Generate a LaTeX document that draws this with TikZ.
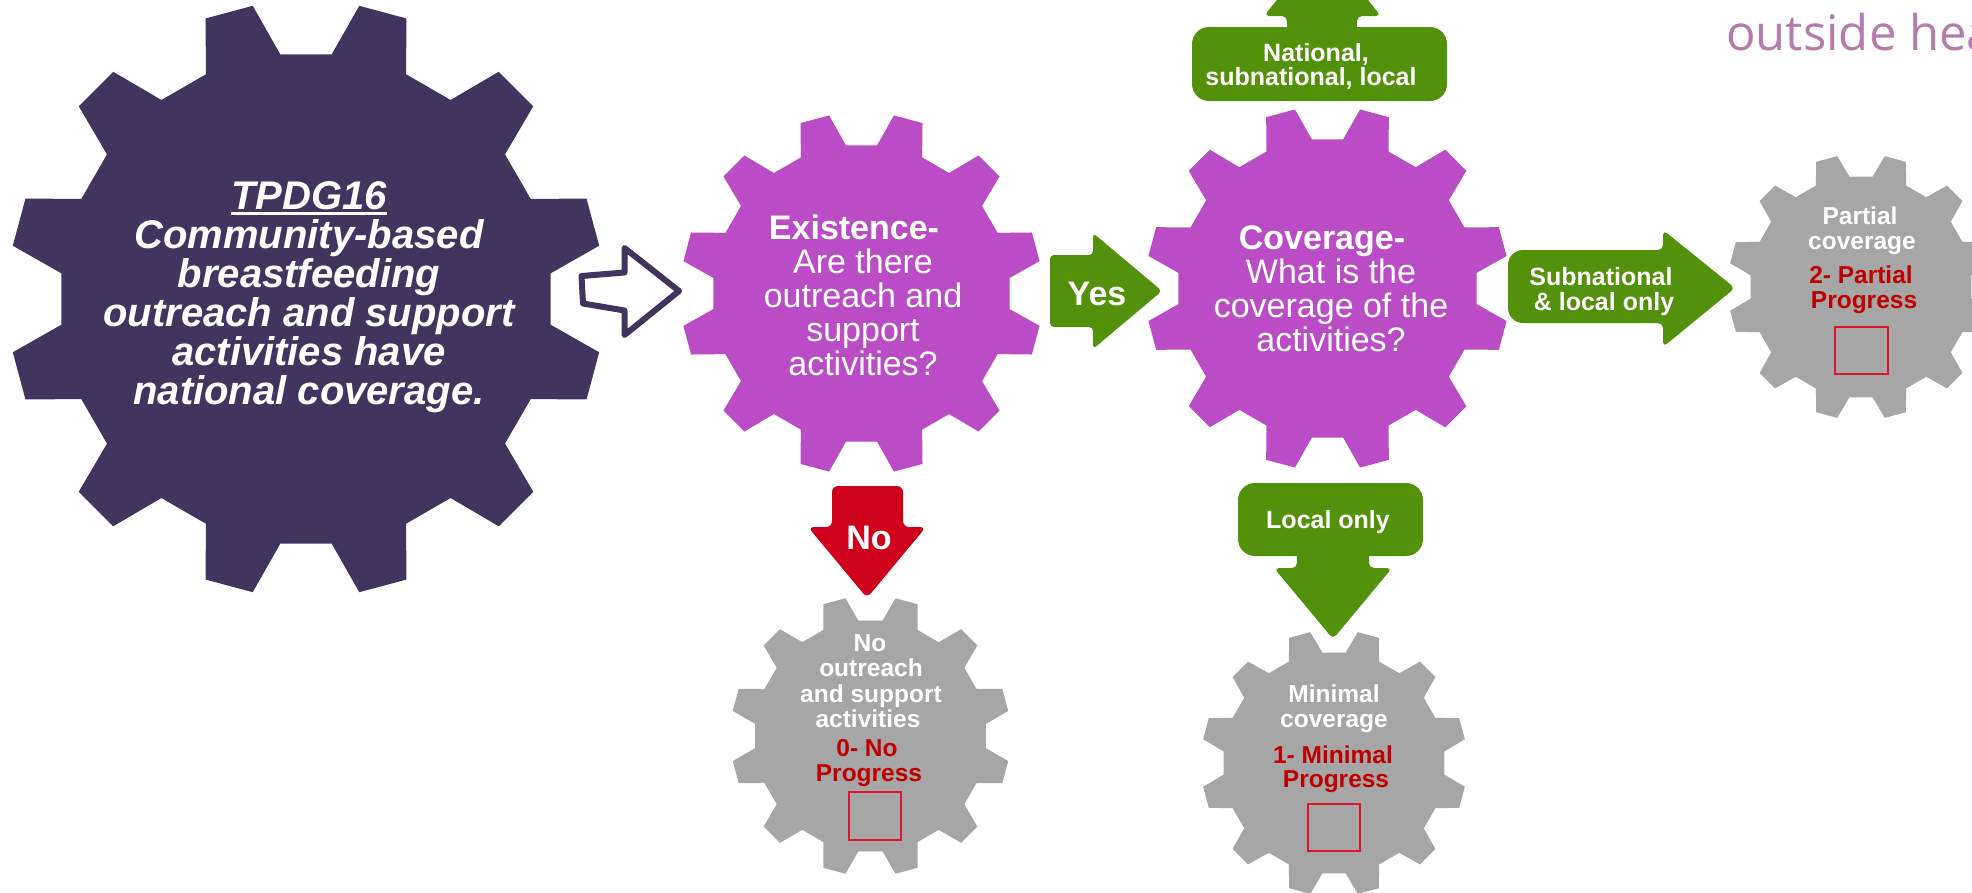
\documentclass[tikz,border=0pt]{standalone}
\usepackage{fontspec}
\setmainfont{Liberation Sans}
\newfontfamily\osans{Open Sans}
\definecolor{darkpurple}{RGB}{65,52,94}
\definecolor{gearpurple}{RGB}{186,77,198}
\definecolor{arrowgreen}{RGB}{82,145,10}
\definecolor{arrowred}{RGB}{208,2,27}
\definecolor{geargray}{RGB}{166,166,166}
\definecolor{darkred}{RGB}{192,0,0}
\definecolor{boxred}{RGB}{222,20,45}
\definecolor{titlepink}{RGB}{181,123,170}
\newcommand{\drawgear}[5]{%
  \fill[#5, shift={(#1,#2)}] (6:#4)
    \foreach \t in {15,45,...,345} { -- (\t-9:#4) -- (\t-4.7:#3) -- (\t+4.7:#3) -- (\t+9:#4) } -- cycle;}
\newcommand{\myul}[1]{\setbox0=\hbox{#1}\rlap{\rule[-5pt]{\wd0}{3pt}}\box0}
\begin{document}
\begin{tikzpicture}[x=1pt,y=-1pt,
  bigtxt/.style={text=white, font=\fontsize{40}{39}\selectfont\bfseries\itshape, inner sep=0pt, anchor=base},
  qtxt/.style={text=white, font=\fontsize{34}{34}\selectfont, inner sep=0pt, anchor=base},
  qbold/.style={text=white, font=\fontsize{34}{34}\selectfont\bfseries, inner sep=0pt, anchor=base},
  lbl/.style={text=white, font=\fontsize{25}{25}\selectfont\bfseries, inner sep=0pt, anchor=base},
  gtxt/.style={text=white, font=\fontsize{24.5}{25}\selectfont\bfseries, inner sep=0pt, anchor=base},
  prog/.style={text=darkred, font=\fontsize{24.5}{25}\selectfont\bfseries, inner sep=0pt, anchor=base},
  checkbox/.style={draw=boxred, line width=1.6pt},
  blockarrow/.style={rounded corners=5pt},
]
\useasboundingbox (0,0) rectangle (1972,892);
\fill[white] (0,0) rectangle (1972,892);
\begin{scope}
\clip (0,0) rectangle (1972,892);
% gears
\coordinate (gmain) at (306,299);
\drawgear{306}{299}{298}{246}{darkpurple}
\drawgear{861.5}{293.5}{181}{149}{gearpurple}
\drawgear{1327.5}{288.5}{182}{150}{gearpurple}
\drawgear{870.5}{736}{140}{116}{geargray}
\drawgear{1334}{763}{133}{111}{geargray}
\drawgear{1861}{287}{133}{111}{geargray}
% title fragment
\node[text=titlepink, font=\osans\fontsize{49}{49}\selectfont, inner sep=0pt, anchor=base west] (title) at (1726,50) {outside hea};
% national stub arrow (head leaves the picture)
\fill[arrowgreen, blockarrow] (1287,40) -- (1357,40) -- (1357,16) -- (1381,16) -- (1322,-56) -- (1264,16) -- (1287,16) -- cycle;
\end{scope}

% hollow arrow
\draw[darkpurple, line width=6pt, line join=round, fill=white]
  (581.5,276) -- (624.5,272.5) -- (624.5,248) -- (679,291) -- (624.5,335) -- (624.5,310.5) -- (583,303.5) -- cycle;

% Yes arrow
\fill[arrowgreen, rounded corners=4pt] (1050,255) -- (1093,255) -- (1093,233) -- (1162,291) -- (1093,349) -- (1093,327) -- (1050,327) -- cycle;
% No arrow
\fill[arrowred, rounded corners=6pt] (832,486) -- (903,486) -- (903,527) -- (926,527) -- (867,598) -- (808,527) -- (832,527) -- cycle;
% National box
\fill[arrowgreen, rounded corners=17pt] (1192,27) rectangle (1447,101);
% Subnational arrow
\fill[arrowgreen, rounded corners=15pt] (1508,250) rectangle (1685,323);
\fill[arrowgreen, blockarrow] (1650,250) -- (1663,250) -- (1663,230) -- (1735,288) -- (1663,347) -- (1663,323) -- (1650,323) -- cycle;
% Local only arrow
\fill[arrowgreen, rounded corners=17pt] (1238,483) rectangle (1423,556);
\fill[arrowgreen, blockarrow] (1297,545) -- (1369,545) -- (1369,568) -- (1392,568) -- (1333,639) -- (1274,568) -- (1297,568) -- cycle;

% big gear text
\node[bigtxt] (m1) at (309,209.5) {\myul{TPDG16}};
\node[bigtxt] (m2) at (309,248.5) {Community-based};
\node[bigtxt] (m3) at (309,287.5) {breastfeeding};
\node[bigtxt] (m4) at (309,326.5) {outreach and support};
\node[bigtxt] (m5) at (309,365.5) {activities have};
\node[bigtxt] (m6) at (309,404.5) {national coverage.};

% existence text
\node[qbold] (e1) at (854,239) {Existence-};
\node[qtxt] (e2) at (863,273) {Are there};
\node[qtxt] (e3) at (863,307) {outreach and};
\node[qtxt] (e4) at (863,341) {support};
\node[qtxt] (e5) at (863,375) {activities?};

% coverage text
\node[qbold] (c1) at (1322,249) {Coverage-};
\node[qtxt] (c2) at (1331,283) {What is the};
\node[qtxt] (c3) at (1331,317) {coverage of the};
\node[qtxt] (c4) at (1331,351) {activities?};

% arrow labels
\node[qbold] (yes) at (1097,305) {Yes};
\node[qbold] (no) at (869,549) {No};
\node[lbl] (n1) at (1316,61) {National,};
\node[lbl] (n2) at (1311,85) {subnational, local};
\node[lbl] (s1) at (1601,285) {Subnational};
\node[lbl] (s2) at (1604,310) {\& local only};
\node[lbl] (lo) at (1328,528) {Local only};

% no progress gear
\node[gtxt] (a1) at (870,651) {No};
\node[gtxt] (a2) at (871,676) {outreach};
\node[gtxt] (a3) at (871,702) {and support};
\node[gtxt] (a4) at (868,727) {activities};
\node[prog] (a5) at (867,756) {0- No};
\node[prog] (a6) at (869,781) {Progress};
\node[checkbox, inner sep=0pt, minimum width=52pt, minimum height=48pt, anchor=north west] (a7) at (848,791) {};

% minimal gear
\node[gtxt] (b1) at (1334,702) {Minimal};
\node[gtxt] (b2) at (1334,727) {coverage};
\node[prog] (b3) at (1333,763) {1- Minimal};
\node[prog] (b4) at (1336,787) {Progress};
\node[checkbox, inner sep=0pt, minimum width=52pt, minimum height=47pt, anchor=north west] (b5) at (1307,803) {};

% partial gear
\node[gtxt] (p1) at (1860,224) {Partial};
\node[gtxt] (p2) at (1862,249) {coverage};
\node[prog] (p3) at (1861,283) {2- Partial};
\node[prog] (p4) at (1864,308) {Progress};
\node[checkbox, inner sep=0pt, minimum width=53pt, minimum height=47pt, anchor=north west] (p5) at (1834,326) {};
\end{tikzpicture}
\end{document}
